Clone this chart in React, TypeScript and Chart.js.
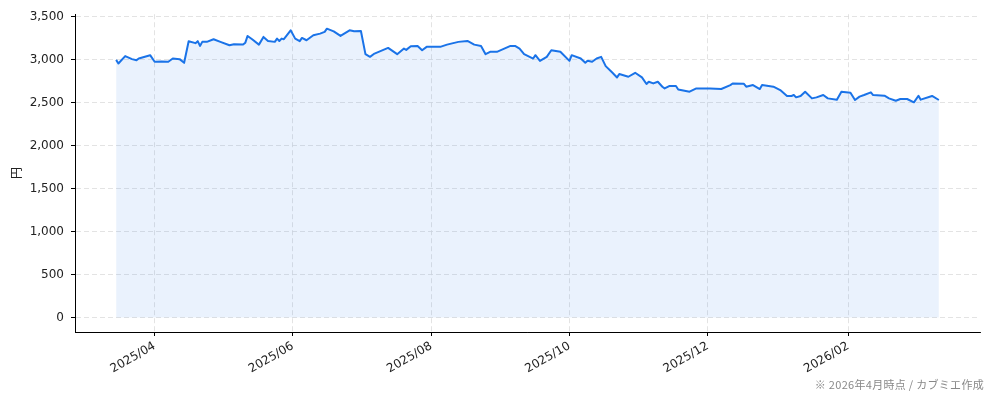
import { useEffect, useRef } from 'react'
import { Chart, registerables } from 'chart.js'

Chart.register(...registerables)

// 日足の終値（円）
const dates = [
  '2025-03-15', '2025-03-16', '2025-03-19', '2025-03-22', '2025-03-24', '2025-03-25', '2025-03-30',
  '2025-04-01', '2025-04-04', '2025-04-07', '2025-04-09', '2025-04-12', '2025-04-14', '2025-04-16',
  '2025-04-19', '2025-04-20', '2025-04-21', '2025-04-22', '2025-04-24', '2025-04-27', '2025-04-30',
  '2025-05-04', '2025-05-06', '2025-05-10', '2025-05-11', '2025-05-12', '2025-05-14', '2025-05-17',
  '2025-05-19', '2025-05-21', '2025-05-24', '2025-05-25', '2025-05-26', '2025-05-27', '2025-05-28',
  '2025-05-31', '2025-06-02', '2025-06-04', '2025-06-05', '2025-06-07', '2025-06-10', '2025-06-13',
  '2025-06-15', '2025-06-16', '2025-06-19', '2025-06-22', '2025-06-26', '2025-06-28', '2025-07-01',
  '2025-07-03', '2025-07-05', '2025-07-07', '2025-07-13', '2025-07-17', '2025-07-20', '2025-07-21',
  '2025-07-23', '2025-07-26', '2025-07-28', '2025-07-30', '2025-08-05', '2025-08-08', '2025-08-13',
  '2025-08-17', '2025-08-20', '2025-08-23', '2025-08-25', '2025-08-27', '2025-08-30', '2025-09-03',
  '2025-09-05', '2025-09-07', '2025-09-09', '2025-09-11', '2025-09-15', '2025-09-16', '2025-09-18',
  '2025-09-21', '2025-09-23', '2025-09-27', '2025-10-01', '2025-10-02', '2025-10-06', '2025-10-08',
  '2025-10-09', '2025-10-11', '2025-10-13', '2025-10-15', '2025-10-17', '2025-10-20', '2025-10-22',
  '2025-10-23', '2025-10-27', '2025-10-30', '2025-11-02', '2025-11-04', '2025-11-05', '2025-11-07',
  '2025-11-09', '2025-11-11', '2025-11-12', '2025-11-14', '2025-11-17', '2025-11-18', '2025-11-23',
  '2025-11-26', '2025-12-02', '2025-12-07', '2025-12-11', '2025-12-12', '2025-12-17', '2025-12-18',
  '2025-12-21', '2025-12-24', '2025-12-25', '2025-12-30', '2026-01-02', '2026-01-05', '2026-01-07',
  '2026-01-08', '2026-01-09', '2026-01-11', '2026-01-13', '2026-01-16', '2026-01-18', '2026-01-21',
  '2026-01-23', '2026-01-27', '2026-01-29', '2026-02-02', '2026-02-04', '2026-02-06', '2026-02-08',
  '2026-02-11', '2026-02-12', '2026-02-17', '2026-02-19', '2026-02-22', '2026-02-24', '2026-02-27',
  '2026-03-02', '2026-03-04', '2026-03-05', '2026-03-10', '2026-03-13',
]

const prices = [
  3000, 2958, 3044, 3009, 2997, 3016, 3055,
  2978, 2980, 2978, 3016, 3009, 2966, 3218,
  3195, 3218, 3163, 3210, 3210, 3241, 3210,
  3171, 3183, 3178, 3201, 3279, 3241, 3178,
  3268, 3221, 3210, 3248, 3221, 3248, 3241,
  3345, 3248, 3218, 3256, 3229, 3287, 3306,
  3326, 3364, 3333, 3279, 3345, 3333, 3337,
  3067, 3036, 3074, 3140, 3067, 3132, 3117,
  3160, 3163, 3113, 3152, 3152, 3178, 3210,
  3221, 3178, 3163, 3067, 3094, 3094, 3140,
  3163, 3163, 3132, 3067, 3016, 3055, 2989,
  3036, 3113, 3094, 2989, 3055, 3016, 2966,
  2989, 2978, 3016, 3036, 2928, 2850, 2796,
  2835, 2804, 2850, 2796, 2719, 2746, 2726,
  2746, 2688, 2668, 2696, 2696, 2656, 2630,
  2668, 2668, 2661, 2707, 2726, 2722, 2688,
  2707, 2661, 2707, 2688, 2649, 2580, 2580,
  2592, 2564, 2580, 2630, 2552, 2564, 2591,
  2552, 2537, 2630, 2618, 2533, 2572, 2591,
  2622, 2591, 2583, 2552, 2525, 2545, 2545,
  2506, 2583, 2537, 2580, 2533,
]

const xTickLabels = ['2025/04', '2025/06', '2025/08', '2025/10', '2025/12', '2026/02']
const yTicks = [0, 500, 1000, 1500, 2000, 2500, 3000, 3500]
const yLabel = '円'
const footnote = '※ 2026年4月時点 / カブミエ作成'

const LINE = '#1a73e8'
const TICK_FONT = { family: '"DejaVu Sans", sans-serif', size: 12 }

const dayMs = (s: string) => {
  const [y, m, d] = s.split('-').map(Number)
  return Date.UTC(y, m - 1, d)
}
const monthMs = (label: string) => {
  const [y, m] = label.split('/').map(Number)
  return Date.UTC(y, m - 1, 1)
}
const fmtMonth = (v: number) => {
  const d = new Date(v)
  return `${d.getUTCFullYear()}/${String(d.getUTCMonth() + 1).padStart(2, '0')}`
}

export default function App() {
  const canvasRef = useRef<HTMLCanvasElement>(null)
  const chartRef = useRef<Chart | null>(null)

  useEffect(() => {
    if (!canvasRef.current) return
    const xs = dates.map(dayMs)
    const points = xs.map((x, i) => ({ x, y: prices[i] }))
    const span = xs[xs.length - 1] - xs[0]
    const pMax = Math.max(...prices)

    chartRef.current?.destroy()
    chartRef.current = new Chart(canvasRef.current, {
      type: 'line',
      data: {
        datasets: [
          {
            data: points,
            borderColor: LINE,
            borderWidth: 2,
            borderJoinStyle: 'round',
            backgroundColor: 'rgba(26,115,232,0.09)',
            fill: 'origin',
            pointRadius: 0,
            tension: 0,
          },
        ],
      },
      options: {
        animation: false,
        responsive: true,
        maintainAspectRatio: false,
        layout: { padding: { left: 0, right: 14, top: 12, bottom: 0 } },
        plugins: { legend: { display: false }, tooltip: { enabled: false } },
        scales: {
          x: {
            type: 'linear',
            min: xs[0] - span * 0.05,
            max: xs[xs.length - 1] + span * 0.05,
            afterBuildTicks: (s: any) => {
              s.ticks = xTickLabels.map((l) => ({ value: monthMs(l) }))
            },
            afterFit: (s: any) => {
              s.height = 68
            },
            ticks: {
              autoSkip: false,
              minRotation: 30,
              maxRotation: 30,
              padding: 3,
              color: '#222',
              font: TICK_FONT,
              callback: (v: any) => fmtMonth(Number(v)),
            },
            grid: { color: '#dcdcdc', lineWidth: 0.8, tickColor: '#000', tickLength: 4, tickWidth: 1 },
            border: { display: true, color: '#000', width: 1, dash: [5, 3] },
          },
          y: {
            type: 'linear',
            min: -pMax * 0.05,
            max: pMax * 1.05,
            afterBuildTicks: (s: any) => {
              s.ticks = yTicks.map((v) => ({ value: v }))
            },
            afterFit: (s: any) => {
              s.width = 75
            },
            ticks: {
              padding: 7,
              color: '#222',
              font: TICK_FONT,
              callback: (v: any) => Number(v).toLocaleString('en-US'),
            },
            grid: { color: '#dcdcdc', lineWidth: 0.8, tickColor: '#000', tickLength: 4, tickWidth: 1 },
            border: { display: true, color: '#000', width: 1, dash: [5, 3] },
            title: {
              display: true,
              text: yLabel,
              color: '#222',
              font: { family: '"Noto Sans CJK JP", sans-serif', size: 12 },
              padding: { top: 9, bottom: 0 },
            },
          },
        },
      },
    })
    return () => {
      chartRef.current?.destroy()
      chartRef.current = null
    }
  }, [])

  return (
    <div style={{ position: 'absolute', left: 0, top: 0, width: 994, height: 400, background: '#fff' }}>
      <canvas ref={canvasRef} />
      <div
        style={{
          position: 'absolute',
          right: 10,
          top: 376,
          fontFamily: '"Noto Sans CJK JP", sans-serif',
          fontSize: 11,
          letterSpacing: 0.3,
          color: '#888',
          whiteSpace: 'nowrap',
        }}
      >
        {footnote}
      </div>
    </div>
  )
}
